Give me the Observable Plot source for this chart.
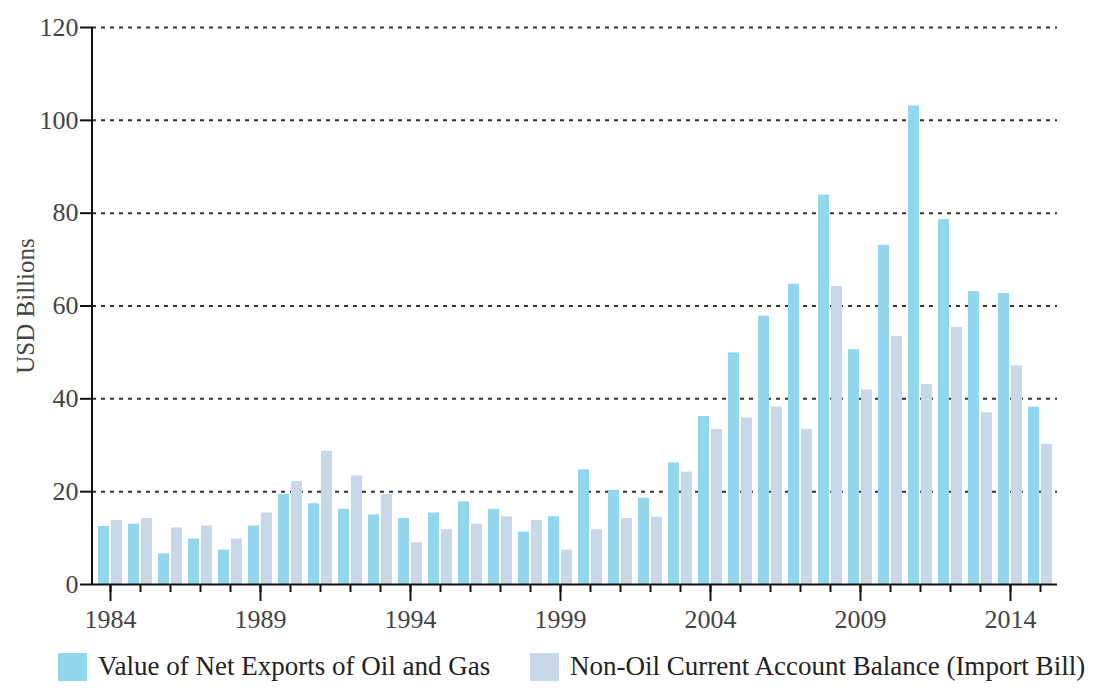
<!DOCTYPE html>
<html>
<head>
<meta charset="utf-8">
<script src="https://cdn.jsdelivr.net/npm/d3@7"></script>
<script src="https://cdn.jsdelivr.net/npm/@observablehq/plot@0.6"></script>
<style>
  body { margin: 0; background: #fff; font-family: "Liberation Serif", serif; }
  #legend { position: relative; height: 40px; font-size: 27px; color: #222; }
  .item { position: absolute; top: 6px; display: flex; align-items: center; }
  .sw { width: 29px; height: 28px; margin-right: 11px; }
</style>
</head>
<body>
<div id="chart"></div>
<div id="legend">
  <div class="item" style="left:58px"><div class="sw" style="background:#93d7ef"></div><span>Value of Net Exports of Oil and Gas</span></div>
  <div class="item" style="left:530px"><div class="sw" style="background:#c9d8e8"></div><span>Non-Oil Current Account Balance (Import Bill)</span></div>
</div>
<script>
const years = [1984,1985,1986,1987,1988,1989,1990,1991,1992,1993,1994,1995,1996,1997,1998,1999,2000,2001,2002,2003,2004,2005,2006,2007,2008,2009,2010,2011,2012,2013,2014,2015];
const oilExports = [12.5,13.0,6.6,9.8,7.4,12.6,19.4,17.4,16.2,15.0,14.2,15.4,17.8,16.2,11.3,14.6,24.7,20.3,18.6,26.2,36.2,49.9,57.8,64.7,83.9,50.6,73.1,103.1,78.6,63.1,62.7,38.2];
const nonOil = [13.8,14.2,12.2,12.6,9.8,15.4,22.2,28.7,23.4,19.4,9.0,11.8,13.0,14.6,13.8,7.4,11.8,14.2,14.5,24.2,33.4,35.9,38.2,33.4,64.2,41.9,53.4,43.1,55.4,37.0,47.1,30.2];
const labelYears = [1984,1989,1994,1999,2004,2009,2014];
const yTicks = [0,20,40,60,80,100,120];

const data = years.map((year, i) => ({year, oil: oilExports[i], nonOil: nonOil[i]}));

const plot = Plot.plot({
  width: 1093,
  height: 645,
  marginLeft: 92,
  marginRight: 36,
  marginTop: 27,
  marginBottom: 61,
  style: {fontFamily: "'Liberation Serif', serif", color: "#333", background: "#fff"},
  x: {type: "band", domain: years, paddingInner: 0.2, paddingOuter: 0.18, label: null},
  y: {domain: [0, 120], label: null},
  marks: [
    Plot.gridY(yTicks.slice(1), {stroke: "#333", strokeOpacity: 1, strokeWidth: 2, strokeDasharray: "4,5"}),
    Plot.barY(data, {x: "year", y: "oil", fill: "#93d7ef", insetRight: 13}),
    Plot.barY(data, {x: "year", y: "nonOil", fill: "#c9d8e8", insetLeft: 13}),
    Plot.ruleY([0], {stroke: "#111", strokeWidth: 2}),
    Plot.axisY(yTicks, {tickSize: 12, tickPadding: 2, stroke: "#111", strokeWidth: 2, fill: "#444", fontSize: 26,
      label: "USD Billions", labelAnchor: "center", labelArrow: "none", labelOffset: 76}),
    Plot.axisX({tickSize: 8, tickFormat: () => "", stroke: "#111", strokeWidth: 2}),
    Plot.axisX(labelYears, {tickSize: 17, tickPadding: 8, stroke: "#111", strokeWidth: 2, fill: "#444", fontSize: 26, tickFormat: d => String(d)})
  ]
});

// y axis line drawn along the x scale's range start
const svg = d3.select(plot);
const xr = plot.scale("x").range;
const yr = plot.scale("y").range;
svg.append("line")
  .attr("x1", xr[0]).attr("x2", xr[0])
  .attr("y1", yr[0] + 1).attr("y2", yr[1])
  .attr("stroke", "#111").attr("stroke-width", 2);
svg.selectAll("text").filter(function() { return this.textContent.trim() === "USD Billions"; })
  .attr("font-size", 25).style("font-size", "25px");

document.getElementById("chart").appendChild(plot);
</script>
</body>
</html>
